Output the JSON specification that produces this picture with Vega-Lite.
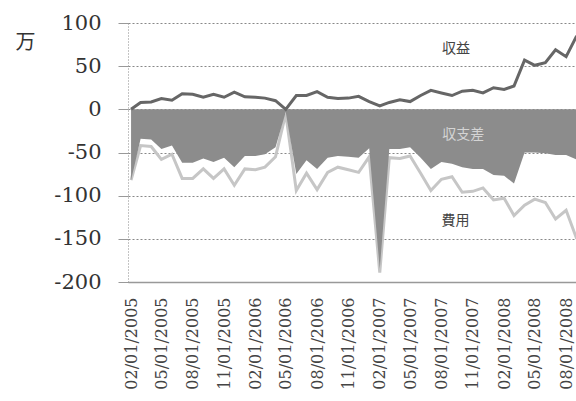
{
  "$schema": "https://vega.github.io/schema/vega-lite/v6.json",
  "width": 448,
  "height": 259,
  "autosize": {"type": "none"},
  "padding": {"left": 128, "top": 23, "right": 0, "bottom": 119},
  "background": "white",
  "config": {"view": {"stroke": null}},
  "data": {"values": [
    {"date": "02/01/2005", "rev": 0, "exp": -82, "diff": -82},
    {"date": "03/01/2005", "rev": 8, "exp": -42, "diff": -34},
    {"date": "04/01/2005", "rev": 8.5, "exp": -43, "diff": -35},
    {"date": "05/01/2005", "rev": 12.5, "exp": -58, "diff": -46},
    {"date": "06/01/2005", "rev": 10.5, "exp": -52, "diff": -42},
    {"date": "07/01/2005", "rev": 18, "exp": -80, "diff": -62},
    {"date": "08/01/2005", "rev": 17.5, "exp": -80, "diff": -62},
    {"date": "09/01/2005", "rev": 14, "exp": -69, "diff": -57},
    {"date": "10/01/2005", "rev": 17.5, "exp": -80, "diff": -61},
    {"date": "11/01/2005", "rev": 14, "exp": -69, "diff": -56},
    {"date": "12/01/2005", "rev": 20, "exp": -88, "diff": -67},
    {"date": "01/01/2006", "rev": 14.5, "exp": -69, "diff": -54},
    {"date": "02/01/2006", "rev": 14, "exp": -70, "diff": -54},
    {"date": "03/01/2006", "rev": 13, "exp": -67, "diff": -52},
    {"date": "04/01/2006", "rev": 10, "exp": -55, "diff": -44},
    {"date": "05/01/2006", "rev": 0, "exp": -5, "diff": -3},
    {"date": "06/01/2006", "rev": 16, "exp": -94, "diff": -75},
    {"date": "07/01/2006", "rev": 16, "exp": -74, "diff": -59},
    {"date": "08/01/2006", "rev": 20.5, "exp": -93, "diff": -69},
    {"date": "09/01/2006", "rev": 14, "exp": -73, "diff": -56},
    {"date": "10/01/2006", "rev": 12.5, "exp": -67, "diff": -54},
    {"date": "11/01/2006", "rev": 13, "exp": -70, "diff": -55},
    {"date": "12/01/2006", "rev": 15, "exp": -73, "diff": -56},
    {"date": "01/01/2007", "rev": 9, "exp": -55, "diff": -45},
    {"date": "02/01/2007", "rev": 4, "exp": -189, "diff": -185},
    {"date": "03/01/2007", "rev": 8, "exp": -56, "diff": -46},
    {"date": "04/01/2007", "rev": 11, "exp": -57, "diff": -46},
    {"date": "05/01/2007", "rev": 9, "exp": -54, "diff": -44},
    {"date": "06/01/2007", "rev": 16, "exp": -74, "diff": -56},
    {"date": "07/01/2007", "rev": 22, "exp": -94, "diff": -69},
    {"date": "08/01/2007", "rev": 19, "exp": -81, "diff": -61},
    {"date": "09/01/2007", "rev": 16, "exp": -78, "diff": -63},
    {"date": "10/01/2007", "rev": 21, "exp": -96, "diff": -67},
    {"date": "11/01/2007", "rev": 22, "exp": -95, "diff": -69},
    {"date": "12/01/2007", "rev": 19, "exp": -91, "diff": -69},
    {"date": "01/01/2008", "rev": 25, "exp": -105, "diff": -76},
    {"date": "02/01/2008", "rev": 23, "exp": -103, "diff": -77},
    {"date": "03/01/2008", "rev": 27, "exp": -123, "diff": -86},
    {"date": "04/01/2008", "rev": 57, "exp": -111, "diff": -50},
    {"date": "05/01/2008", "rev": 51, "exp": -104, "diff": -50},
    {"date": "06/01/2008", "rev": 54, "exp": -108, "diff": -51},
    {"date": "07/01/2008", "rev": 69, "exp": -127, "diff": -53},
    {"date": "08/01/2008", "rev": 61, "exp": -117, "diff": -53},
    {"date": "09/01/2008", "rev": 85, "exp": -150, "diff": -58}
  ]},
  "encoding": {
    "x": {
      "field": "date", "type": "temporal",
      "scale": {"domain": [{"year": 2005, "month": 1, "date": 23}, {"year": 2008, "month": 8, "date": 30}]},
      "axis": {
        "title": null,
        "format": "%m/%d/%Y",
        "values": [
          {"year": 2005, "month": 2, "date": 1}, {"year": 2005, "month": 5, "date": 1}, {"year": 2005, "month": 8, "date": 1}, {"year": 2005, "month": 11, "date": 1},
          {"year": 2006, "month": 2, "date": 1}, {"year": 2006, "month": 5, "date": 1}, {"year": 2006, "month": 8, "date": 1}, {"year": 2006, "month": 11, "date": 1},
          {"year": 2007, "month": 2, "date": 1}, {"year": 2007, "month": 5, "date": 1}, {"year": 2007, "month": 8, "date": 1}, {"year": 2007, "month": 11, "date": 1},
          {"year": 2008, "month": 2, "date": 1}, {"year": 2008, "month": 5, "date": 1}, {"year": 2008, "month": 8, "date": 1}
        ],
        "labelAngle": -90,
        "labelFont": "DejaVu Serif",
        "labelFontSize": 16,
        "labelColor": "#444",
        "labelPadding": 15,
        "labelOverlap": false,
        "labelBound": false,
        "labelFlush": false,
        "ticks": false,
        "grid": false,
        "domainColor": "#999",
        "domainWidth": 1.5
      }
    }
  },
  "layer": [
    {
      "mark": {"type": "line", "color": "#c6c6c6", "strokeWidth": 3, "clip": true},
      "encoding": {
        "y": {
          "field": "exp", "type": "quantitative",
          "scale": {"domain": [-200, 100], "nice": false},
          "axis": {
            "title": "万",
            "titleAngle": 0,
            "titleX": -103,
            "titleY": 19,
            "titleAlign": "center",
            "titleBaseline": "middle",
            "titleFont": "Noto Sans CJK JP",
            "titleFontSize": 20,
            "titleFontWeight": "normal",
            "titleColor": "#333",
            "values": [-200, -150, -100, -50, 0, 50, 100],
            "labelExpr": "datum.value < 0 ? '-' + abs(datum.value) : '' + datum.value",
            "labelFont": "DejaVu Serif",
            "labelFontSize": 21,
            "labelColor": "#333",
            "labelPadding": 17,
            "tickSize": 10,
            "tickColor": "#999",
            "grid": true,
            "gridColor": "#888",
            "gridDash": [2, 2],
            "gridWidth": 1,
            "domain": true,
            "domainColor": "#888",
            "domainDash": [1, 2],
            "domainWidth": 1
          }
        }
      }
    },
    {
      "mark": {"type": "area", "color": "#8c8c8c", "opacity": 1, "clip": true},
      "encoding": {"y": {"field": "diff", "type": "quantitative"}}
    },
    {
      "mark": {"type": "line", "color": "#666", "strokeWidth": 3, "clip": true},
      "encoding": {"y": {"field": "rev", "type": "quantitative"}}
    },
    {
      "data": {"values": [
        {"label": "収益", "date": "09/13/2007", "v": 69.5},
        {"label": "費用", "date": "09/11/2007", "v": -129}
      ]},
      "mark": {"type": "text", "font": "Noto Sans CJK JP", "fontSize": 14, "color": "#444", "align": "center", "baseline": "middle"},
      "encoding": {
        "x": {"field": "date", "type": "temporal"},
        "y": {"field": "v", "type": "quantitative"},
        "text": {"field": "label"}
      }
    },
    {
      "data": {"values": [
        {"label": "収支差", "date": "10/04/2007", "v": -30}
      ]},
      "mark": {"type": "text", "font": "Noto Sans CJK JP", "fontSize": 14, "color": "#d4d4d4", "align": "center", "baseline": "middle"},
      "encoding": {
        "x": {"field": "date", "type": "temporal"},
        "y": {"field": "v", "type": "quantitative"},
        "text": {"field": "label"}
      }
    }
  ]
}
